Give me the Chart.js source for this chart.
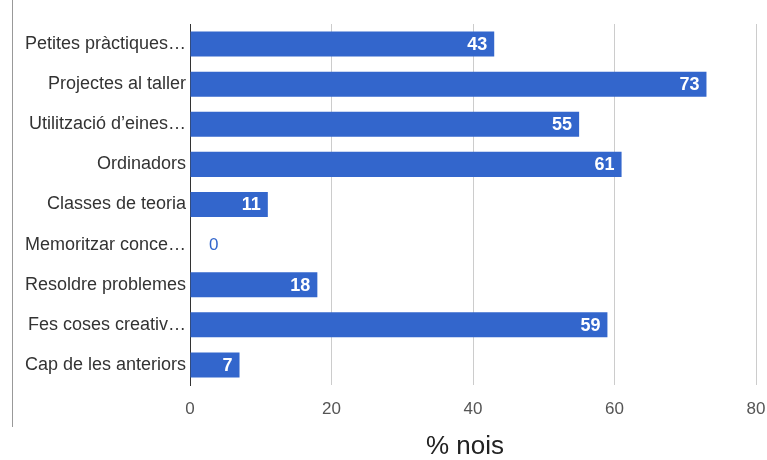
<!DOCTYPE html>
<html>
<head>
<meta charset="utf-8">
<script src="https://cdn.jsdelivr.net/npm/chart.js@4"></script>
<style>
  body { margin: 0; background: #fff; }
  #wrap { position: relative; width: 767px; height: 460px; }
  #edge { position: absolute; left: 12px; top: 0; width: 1px; height: 427px; background: #999; }
</style>
</head>
<body>
<div id="wrap">
  <canvas id="chart" width="767" height="460"></canvas>
  <div id="edge"></div>
</div>
<script>
// Data
const categories = [
    'Petites pràctiques…',
    'Projectes al taller',
    'Utilització d\u2019eines…',
    'Ordinadors',
    'Classes de teoria',
    'Memoritzar conce…',
    'Resoldre problemes',
    'Fes coses creativ…',
    'Cap de les anteriors'
];
const values = [43, 73, 55, 61, 11, 0, 18, 59, 7];
const xTicks = [0, 20, 40, 60, 80];
const axisTitle = '% nois';

const barColor = '#3366cc';
const fontFamily = '"Liberation Sans", Arial, sans-serif';

// Draws the value at the end of each bar (inside in white, outside in blue if too short)
const valueLabels = {
    id: 'valueLabels',
    afterDatasetsDraw(chart) {
        const c = chart.ctx;
        const meta = chart.getDatasetMeta(0);
        c.save();
        c.textBaseline = 'middle';
        meta.data.forEach((bar, i) => {
            const v = values[i];
            if (v > 0) {
                c.font = 'bold 18px ' + fontFamily;
                c.fillStyle = '#ffffff';
                c.textAlign = 'right';
                c.fillText(String(v), bar.x - 7, bar.y + 1);
            } else {
                c.font = '17px ' + fontFamily;
                c.fillStyle = barColor;
                c.textAlign = 'left';
                c.fillText(String(v), bar.x + 19, bar.y + 1);
            }
        });
        c.restore();
    }
};

// Axis title, centred a little left of the plot centre like the original
const axisTitlePlugin = {
    id: 'axisTitle',
    afterDraw(chart) {
        const c = chart.ctx;
        const area = chart.chartArea;
        c.save();
        c.font = '26px ' + fontFamily;
        c.fillStyle = '#222222';
        c.textAlign = 'center';
        c.textBaseline = 'middle';
        c.fillText(axisTitle, (area.left + area.right) / 2 - 8, 447);
        c.restore();
    }
};

new Chart(document.getElementById('chart').getContext('2d'), {
    type: 'bar',
    data: {
        labels: categories,
        datasets: [{
            data: values,
            backgroundColor: barColor,
            borderWidth: 0,
            barPercentage: 0.78,
            categoryPercentage: 0.8
        }]
    },
    options: {
        indexAxis: 'y',
        responsive: false,
        animation: false,
        layout: { padding: { top: 24, right: 0, bottom: 0, left: 0 } },
        plugins: { legend: { display: false }, tooltip: { enabled: false } },
        scales: {
            x: {
                min: 0,
                max: 80,
                afterBuildTicks: scale => { scale.ticks = xTicks.map(v => ({ value: v })); },
                afterFit: scale => {
                    scale.height = 75;
                    scale.paddingLeft = 0;
                    scale.paddingRight = 11;
                },
                grid: {
                    color: ctx => ctx.tick && ctx.tick.value === 0 ? 'rgba(0,0,0,0)' : '#cccccc',
                    drawTicks: false
                },
                border: { display: false },
                ticks: {
                    padding: 14,
                    color: '#555555',
                    font: { family: fontFamily, size: 17 }
                }
            },
            y: {
                afterFit: scale => { scale.width = 190; },
                grid: { display: false, drawTicks: false },
                border: { display: true, color: '#333333', width: 1 },
                ticks: {
                    padding: 4,
                    color: '#333333',
                    font: { family: fontFamily, size: 18 }
                }
            }
        }
    },
    plugins: [valueLabels, axisTitlePlugin]
});
</script>
</body>
</html>
